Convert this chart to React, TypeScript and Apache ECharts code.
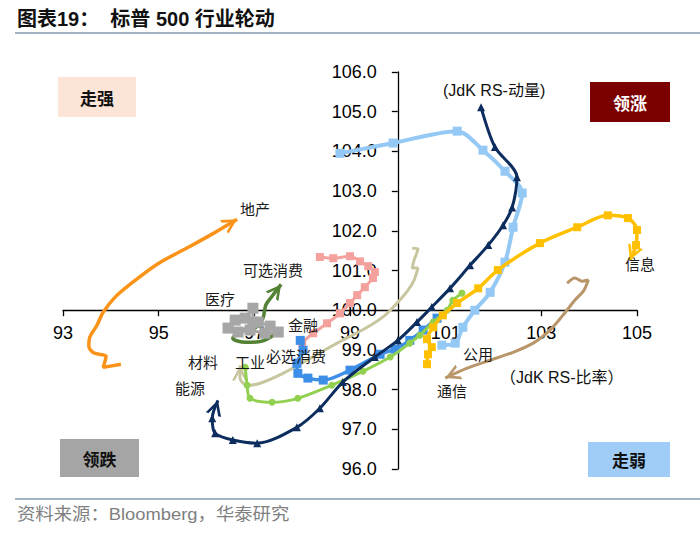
import React, { useEffect, useRef } from "react";
import * as echarts from "echarts";

const W = 700;
const H = 535;
const GRID = { left: 63, right: 63, top: 72, bottom: 66 };
const X_MIN = 93;
const X_MAX = 105;
const Y_MIN = 96;
const Y_MAX = 106;
const CENTER = 100;
const xTickValues = [93, 95, 97, 99, 101, 103, 105];

// Sector trails: [JdK RS-Ratio, JdK RS-Momentum], oldest -> latest
const realEstate = [
  [94.21, 98.64], [93.84, 98.56], [93.9, 98.84], [93.65, 98.92], [93.54, 99.09],
  [93.56, 99.32], [93.71, 99.62], [93.84, 99.95], [94.09, 100.33], [94.4, 100.65],
  [94.97, 101.16], [95.66, 101.61], [96.18, 101.96], [96.64, 102.29],
];
const energy = [
  [101.74, 105.11], [102.03, 104.11], [102.49, 103.35], [102.39, 102.59], [102.2, 102.14],
  [101.89, 101.64], [101.51, 101.13], [101.09, 100.55], [100.71, 100.08], [100.4, 99.7],
  [100.0, 99.24], [99.52, 98.82], [98.85, 98.19], [98.37, 97.53], [97.89, 97.05],
  [97.06, 96.65], [96.55, 96.73], [96.18, 96.9], [96.12, 97.28], [96.24, 97.73],
];
const utilities = [
  [98.79, 103.95], [99.9, 104.21], [101.24, 104.51], [101.78, 104.03], [102.24, 103.5],
  [102.6, 102.95], [102.41, 102.09], [102.24, 101.21], [101.93, 100.45], [101.61, 100.0],
  [101.36, 99.57], [101.2, 99.17], [100.92, 99.12],
];
const infoTech = [
  [100.61, 98.64], [100.63, 98.89], [100.71, 99.07], [100.61, 99.27], [100.74, 99.57],
  [100.94, 99.87], [101.24, 100.18], [101.68, 100.55], [102.09, 101.01], [102.97, 101.69],
  [103.75, 102.09], [104.39, 102.39], [104.81, 102.32], [105.0, 102.02], [104.98, 101.64],
  [104.85, 101.26],
];
const communication = [
  [103.54, 100.68], [103.7, 100.81], [103.85, 100.73], [103.98, 100.76], [103.89, 100.5],
  [103.7, 100.25], [103.45, 99.87], [103.18, 99.5], [102.83, 99.17], [102.41, 98.94],
  [101.93, 98.74], [101.45, 98.54], [100.99, 98.29],
];
const materials = [
  [100.3, 101.56], [100.42, 101.54], [100.34, 101.26], [100.3, 101.06], [100.42, 101.06],
  [100.34, 100.76], [100.21, 100.5], [100.0, 100.2], [99.73, 99.87], [99.36, 99.57],
  [98.73, 99.17], [98.1, 98.74], [97.6, 98.41], [97.12, 98.16], [96.85, 98.11],
  [96.7, 98.29], [96.7, 98.61],
];
const industrials = [
  [101.34, 100.43], [101.15, 100.25], [101.03, 100.0], [100.74, 99.7], [100.46, 99.37],
  [100.25, 99.17], [99.84, 98.82], [99.27, 98.46], [98.62, 98.11], [97.91, 97.78],
  [97.37, 97.68], [96.91, 97.78], [96.85, 98.11], [96.81, 98.56],
];
const staples = [
  [100.82, 99.8], [100.53, 99.5], [100.25, 99.24], [99.94, 99.02], [99.63, 98.89],
  [99.0, 98.49], [98.44, 98.24], [98.12, 98.29], [97.91, 98.41], [97.89, 98.66],
  [98.02, 98.99], [97.96, 99.24],
];
const financials = [
  [98.0, 99.19], [98.23, 99.42], [98.52, 99.67], [98.79, 99.92], [99.0, 100.18],
  [99.15, 100.38], [99.31, 100.58], [99.48, 100.81], [99.52, 100.96], [99.38, 101.11],
  [99.21, 101.23], [99.0, 101.36], [98.65, 101.31], [98.37, 101.34],
];
const consumerDisc = [
  [97.5, 99.45], [97.16, 99.22], [96.81, 99.19], [96.55, 99.29], [96.7, 99.45],
  [97.01, 99.55], [97.18, 99.8], [97.24, 100.13], [97.37, 100.35], [97.56, 100.65],
];
const healthcare = [
  [96.45, 99.55], [96.6, 99.75], [96.81, 99.8], [97.08, 99.7], [97.33, 99.6],
  [97.5, 99.45], [97.22, 99.42], [96.91, 99.5], [96.66, 99.45], [96.97, 99.7],
  [96.97, 100.05],
];

const ARROW = "path://M10,10L17,20L14.4,20L10,13.7L5.6,20L3,20ZM10,0L10.02,0L10,0.02Z";

const seriesDefs = [
  { name: "可选消费", data: consumerDisc, color: "#548235", width: 3.5, symbol: "none", size: 0, arrow: true },
  { name: "医疗", data: healthcare, color: "#a6a6a6", width: 3, symbol: "rect", size: 11, arrow: false },
  { name: "地产", data: realEstate, color: "#fb9319", width: 3.5, symbol: "none", size: 0, arrow: true },
  { name: "金融", data: financials, color: "#f4a09c", width: 3, symbol: "rect", size: 8, arrow: false },
  { name: "材料", data: materials, color: "#c8c69f", width: 3, symbol: "none", size: 0, arrow: true },
  { name: "必选消费", data: staples, color: "#3d8ee6", width: 3.5, symbol: "rect", size: 9, arrow: false },
  { name: "工业", data: industrials, color: "#92d050", width: 3, symbol: "circle", size: 7, arrow: false },
  { name: "公用", data: utilities, color: "#94c8f5", width: 4, symbol: "rect", size: 9, arrow: false },
  { name: "信息", data: infoTech, color: "#ffc000", width: 3.5, symbol: "rect", size: 8, arrow: true },
  { name: "能源", data: energy, color: "#0c2d5e", width: 3, symbol: "triangle", size: 8, arrow: true },
  { name: "通信", data: communication, color: "#b9966a", width: 3, symbol: "none", size: 0, arrow: true },
];

const PX = (W - GRID.left - GRID.right) / (X_MAX - X_MIN);
const PY = (H - GRID.top - GRID.bottom) / (Y_MAX - Y_MIN);
// grids whose edges sit on the crossing lines (value 100 on both axes)
const Y_AXIS_LEFT = GRID.left + (CENTER - X_MIN) * PX;
const X_AXIS_BOTTOM = GRID.bottom + (CENTER - Y_MIN) * PY;

function arrowRotation(pts: number[][]) {
  const a = pts[pts.length - 2];
  const b = pts[pts.length - 1];
  const dx = (b[0] - a[0]) * PX;
  const dy = (b[1] - a[1]) * PY;
  return (Math.atan2(dy, dx) * 180) / Math.PI - 90;
}

function buildSeries(def: any, idx: number) {
  const n = def.data.length;
  const rot = def.arrow ? arrowRotation(def.data) : 0;
  const data = def.data.map((p: number[], i: number) => {
    if (def.arrow && i === n - 1) {
      return { value: p, symbol: ARROW, symbolSize: [16, 30], symbolRotate: rot };
    }
    return { value: p };
  });
  return {
    type: "line",
    name: def.name,
    xAxisIndex: 0,
    yAxisIndex: 0,
    data,
    smooth: 0.3,
    symbol: def.symbol,
    symbolSize: def.size,
    showSymbol: true,
    lineStyle: { color: def.color, width: def.width },
    itemStyle: { color: def.color },
    z: 2 + idx * 0.01,
    silent: true,
  };
}

const LATIN = "'Liberation Sans', Arial, 'Noto Sans CJK SC', sans-serif";
const CJK = "'Noto Sans CJK SC', sans-serif";

function text(x: number, y: number, t: string, opts: any = {}) {
  return {
    type: "text",
    x,
    y,
    z: 100,
    scaleX: opts.scaleX || 1,
    silent: true,
    style: {
      text: t,
      fill: opts.fill || "#1a1a1a",
      fontSize: opts.size || 15,
      fontFamily: opts.family || CJK,
      fontWeight: opts.weight || "normal",
      align: opts.align || "left",
      textAlign: opts.align || "left",
      verticalAlign: "middle",
      textVerticalAlign: "middle",
    },
  };
}

function box(x: number, y: number, w: number, h: number, fill: string, t: string, tf: string) {
  return [
    { type: "rect", z: 90, silent: true, shape: { x, y, width: w, height: h }, style: { fill } },
    text(x + w / 2, y + h / 2, t, { align: "center", fill: tf, size: 17, weight: "bold" }),
  ];
}

const sectorLabels = [
  { t: "地产", x: 240, y: 208 },
  { t: "可选消费", x: 243, y: 269 },
  { t: "医疗", x: 205, y: 298 },
  { t: "金融", x: 288, y: 324 },
  { t: "必选消费", x: 266, y: 355 },
  { t: "材料", x: 188, y: 361 },
  { t: "工业", x: 235, y: 361 },
  { t: "能源", x: 175, y: 387 },
  { t: "信息", x: 625, y: 263 },
  { t: "公用", x: 463, y: 353 },
  { t: "通信", x: 437, y: 390 },
];

const axisLineStyle = { color: "#000", width: 1.3 };
const labelStyle = { fontSize: 18, fontFamily: LATIN, color: "#000" };

export default function App() {
  const ref = useRef<HTMLDivElement>(null);
  useEffect(() => {
    if (!ref.current) return;
    const chart = echarts.init(ref.current, null, { renderer: "svg" });
    const graphics: any[] = [
      text(17, 19, "图表19：  标普 500 行业轮动", { size: 20, weight: "bold", family: LATIN, fill: "#111" }),
      { type: "line", silent: true, shape: { x1: 15, y1: 33, x2: 700, y2: 33 }, style: { stroke: "#8497b0", lineWidth: 1.5 } },
      { type: "line", silent: true, shape: { x1: 15, y1: 499, x2: 700, y2: 499 }, style: { stroke: "#8497b0", lineWidth: 1.5 } },
      text(17, 514, "资料来源：Bloomberg，华泰研究", { size: 17, family: LATIN, fill: "#7f7f7f", scaleX: 1.08 }),
      ...box(58, 77, 78, 40, "#fce4d6", "走强", "#111"),
      ...box(590, 82, 80, 40, "#7b0000", "领涨", "#ffffff"),
      ...box(60, 439, 79, 38, "#a5a5a5", "领跌", "#111"),
      ...box(588, 442, 82, 35, "#9fcdf7", "走弱", "#111"),
      text(443, 90, "(JdK RS-动量)", { size: 16, family: LATIN, fill: "#111" }),
      text(500, 377, "（JdK RS-比率）", { size: 16, family: LATIN, fill: "#111" }),
      ...sectorLabels.map((l) => text(l.x, l.y, l.t, { size: 15 })),
    ];
    chart.setOption({
      animation: false,
      grid: [
        { ...GRID, containLabel: false, outerBoundsMode: "none" },
        { left: Y_AXIS_LEFT, right: GRID.right, top: GRID.top, bottom: GRID.bottom, containLabel: false, outerBoundsMode: "none" },
        { left: GRID.left, right: GRID.right, top: GRID.top, bottom: X_AXIS_BOTTOM, containLabel: false, outerBoundsMode: "none" },
      ],
      xAxis: [
        { gridIndex: 0, type: "value", min: X_MIN, max: X_MAX, show: false },
        { gridIndex: 1, type: "value", min: 0, max: 1, show: false },
        {
          gridIndex: 2,
          type: "value",
          min: X_MIN,
          max: X_MAX,
          position: "bottom",
          splitLine: { show: false },
          axisLine: { onZero: false, lineStyle: axisLineStyle },
          axisTick: { show: true, length: 6, customValues: xTickValues, lineStyle: axisLineStyle },
          axisLabel: { customValues: xTickValues, formatter: (v: number) => String(v), margin: 14, ...labelStyle },
        },
      ],
      yAxis: [
        { gridIndex: 0, type: "value", min: Y_MIN, max: Y_MAX, show: false },
        {
          gridIndex: 1,
          type: "value",
          min: Y_MIN,
          max: Y_MAX,
          interval: 1,
          position: "left",
          splitLine: { show: false },
          axisLine: { onZero: false, lineStyle: axisLineStyle },
          axisTick: { show: true, length: 6, lineStyle: axisLineStyle },
          axisLabel: { formatter: (v: number) => v.toFixed(1), margin: 21, ...labelStyle },
        },
        { gridIndex: 2, type: "value", min: 0, max: 1, show: false },
      ],
      series: seriesDefs.map(buildSeries),
      graphic: { elements: graphics },
    });
    return () => chart.dispose();
  }, []);
  return (
    <div
      ref={ref}
      style={{ position: "fixed", left: 0, top: 0, width: W, height: H, background: "#fff" }}
    />
  );
}
